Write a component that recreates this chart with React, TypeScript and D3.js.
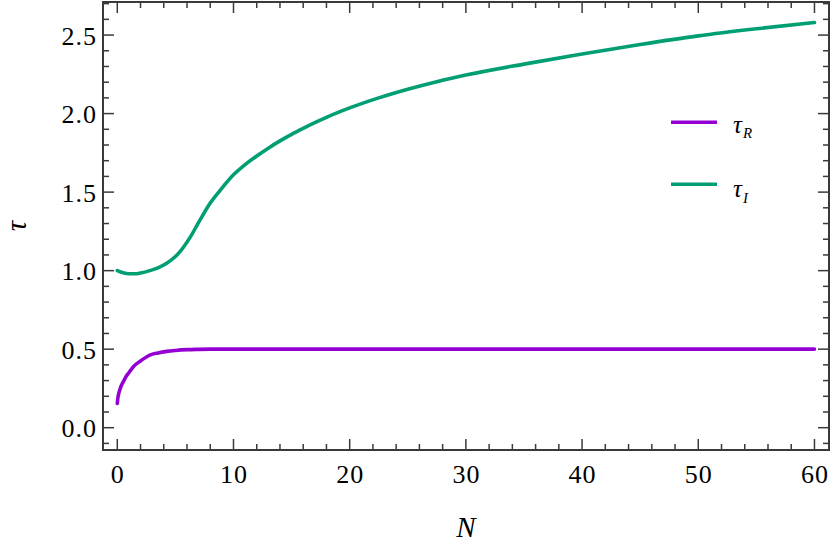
import React from "react";
import * as d3 from "d3";

const nR = [0, 0.05, 0.15, 0.3, 0.5, 0.75, 1, 1.4, 2, 2.8, 3.5, 4.25, 5, 6, 7, 8, 10, 20, 40, 60];
const tauR = [0.155, 0.19, 0.225, 0.26, 0.29, 0.325, 0.35, 0.39, 0.425, 0.462, 0.476, 0.486, 0.492, 0.497, 0.499, 0.5, 0.5, 0.5, 0.5, 0.5];

const nI = [0, 0.5, 1, 1.5, 2, 2.8, 3.5, 4.25, 5, 5.4, 6.25, 7.1, 8, 8.84, 10, 11, 12, 13, 14, 15, 16, 17, 18, 20, 22.5, 25, 27.5, 30, 35, 40, 45, 50, 55, 60];
const tauI = [1.0, 0.986, 0.98, 0.98, 0.985, 1.0, 1.018, 1.047, 1.09, 1.121, 1.21, 1.32, 1.43, 1.51, 1.61, 1.675, 1.73, 1.78, 1.826, 1.868, 1.906, 1.942, 1.976, 2.036, 2.1, 2.155, 2.203, 2.245, 2.315, 2.38, 2.44, 2.495, 2.54, 2.58];

const xMajor = [0, 10, 20, 30, 40, 50, 60];
const yMajor = [0.0, 0.5, 1.0, 1.5, 2.0, 2.5];

const purple = "#9400d3";
const green = "#009e73";

export default function App() {
  const left = 103, right = 829, top = 2, bottom = 450;
  const x = d3.scaleLinear().domain([-1.23, 61.25]).range([left, right]);
  const y = d3.scaleLinear().domain([-0.142, 2.7105]).range([bottom, top]);
  const line = d3.line<[number, number]>().x(d => x(d[0])).y(d => y(d[1])).curve(d3.curveMonotoneX);
  const dR = line(nR.map((n, i) => [n, tauR[i]]))!;
  const dI = line(nI.map((n, i) => [n, tauI[i]]))!;

  const xMinor = d3.range(0, 61, 2).filter(v => v % 10 !== 0);
  const yMinor = d3.range(-1, 28).map(v => v / 10).filter(v => Math.round(v * 10) % 5 !== 0);
  const tickColor = "#3a3a3a";
  const majL = 11, minL = 6;
  const font = '"Liberation Serif"';
  const tf = { fontFamily: font };
  const tickStyle = { ...tf, fontSize: "26px", letterSpacing: "1px" };

  return (
    <svg width={830} height={554} style={{ position: "absolute", left: 0, top: 0 }}>
      <rect x={0} y={0} width={830} height={554} fill="#fff" />
      <path d={dI} fill="none" stroke={green} strokeWidth={3.6} strokeLinecap="round" />
      <path d={dR} fill="none" stroke={purple} strokeWidth={3.6} strokeLinecap="round" />
      <g stroke={tickColor} strokeWidth={1.5}>
        {xMajor.map(v => (
          <g key={"xM" + v}>
            <line x1={x(v)} x2={x(v)} y1={bottom} y2={bottom - majL} />
            <line x1={x(v)} x2={x(v)} y1={top} y2={top + majL} />
          </g>
        ))}
        {xMinor.map(v => (
          <g key={"xm" + v}>
            <line x1={x(v)} x2={x(v)} y1={bottom} y2={bottom - minL} />
            <line x1={x(v)} x2={x(v)} y1={top} y2={top + minL} />
          </g>
        ))}
        {yMajor.map(v => (
          <g key={"yM" + v}>
            <line x1={left} x2={left + majL} y1={y(v)} y2={y(v)} />
            <line x1={right} x2={right - majL} y1={y(v)} y2={y(v)} />
          </g>
        ))}
        {yMinor.map(v => (
          <g key={"ym" + v}>
            <line x1={left} x2={left + minL} y1={y(v)} y2={y(v)} />
            <line x1={right} x2={right - minL} y1={y(v)} y2={y(v)} />
          </g>
        ))}
      </g>
      <rect x={left} y={top} width={right - left} height={bottom - top} fill="none" stroke={tickColor} strokeWidth={2} />
      <g fill="#000">
        {xMajor.map(v => (
          <text key={"xl" + v} x={x(v) + 0.5} y={bottom + 33} textAnchor="middle" style={tickStyle}>{v}</text>
        ))}
        {yMajor.map(v => (
          <text key={"yl" + v} x={left - 6} y={y(v) + 9.5} textAnchor="end" style={tickStyle}>{v.toFixed(1)}</text>
        ))}
      </g>
      <text x={(left + right) / 2} y={537} textAnchor="middle" style={{ ...tf, fontSize: "29px", fontStyle: "italic" }}>N</text>
      <text transform={`translate(26, ${(top + bottom) / 2}) rotate(-90)`} textAnchor="middle" style={{ ...tf, fontSize: "29px", fontStyle: "italic" }}>τ</text>
      <line x1={671} x2={717} y1={122.3} y2={122.3} stroke={purple} strokeWidth={3.6} />
      <line x1={671} x2={717} y1={184.3} y2={184.3} stroke={green} strokeWidth={3.6} />
      <text x={733} y={133} style={{ ...tf, fontSize: "25px", fontStyle: "italic" }}>τ<tspan dx={1} dy={5} style={{ fontSize: "15px" }}>R</tspan></text>
      <text x={733} y={197} style={{ ...tf, fontSize: "25px", fontStyle: "italic" }}>τ<tspan dx={1} dy={6} style={{ fontSize: "15px" }}>I</tspan></text>
    </svg>
  );
}
